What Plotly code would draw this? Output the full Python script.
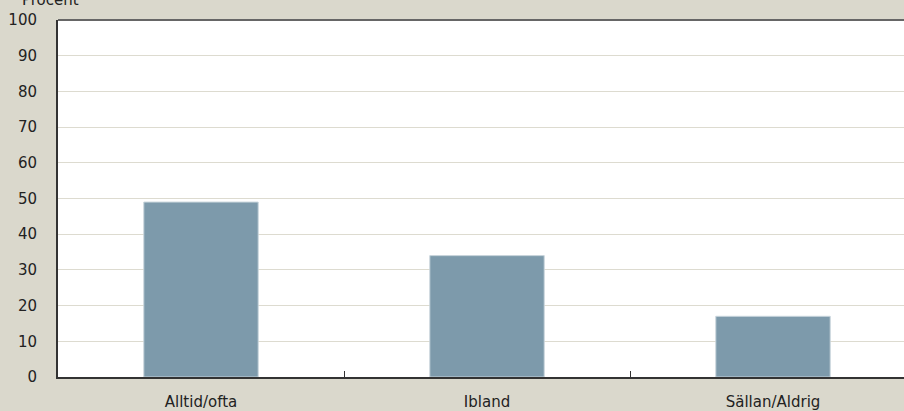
import plotly.graph_objects as go

categories = ["Alltid/ofta", "Ibland", "Sällan/Aldrig"]
values = [49, 34, 17]
y_ticks = list(range(0, 101, 10))

bg = "#dad8cc"
bar_color = "#7d9aab"
axis_color = "#333333"
grid_color = "#dddbd0"
font_family = "'DejaVu Sans', Verdana, sans-serif"

fig = go.Figure(
    go.Bar(
        x=categories,
        y=values,
        marker=dict(color=bar_color, line=dict(color="#c9d5dc", width=1)),
        width=0.4,
        hoverinfo="x+y",
    )
)

fig.update_layout(
    width=904,
    height=411,
    margin=dict(l=58, r=0, t=20, b=34),
    paper_bgcolor=bg,
    plot_bgcolor="white",
    font=dict(family=font_family, size=15, color="#222222"),
    showlegend=False,
)

# the category band runs past the right edge of the figure
fig.update_xaxes(
    type="category",
    range=[-0.5, 2.458],
    showline=True,
    linecolor=axis_color,
    linewidth=2,
    ticks="inside",
    tickson="boundaries",
    ticklen=6,
    tickcolor=axis_color,
    tickwidth=1,
    showgrid=False,
    ticklabelstandoff=10,
    tickfont=dict(size=15),
)

fig.update_yaxes(
    range=[0, 100],
    tickvals=y_ticks,
    showline=True,
    linecolor=axis_color,
    linewidth=2,
    showgrid=True,
    gridcolor=grid_color,
    gridwidth=1,
    zeroline=False,
    ticks="",
    ticklabelstandoff=16,
    tickfont=dict(size=15),
)

# top border of the plot area
fig.add_shape(
    type="line", xref="paper", yref="paper",
    x0=0, x1=1, y0=1, y1=1,
    line=dict(color="#666666", width=2),
)

fig.add_annotation(
    text="Procent",
    xref="paper", yref="paper",
    x=-38 / 846, y=1.0 + 9 / 357,
    xanchor="left", yanchor="bottom",
    showarrow=False,
    font=dict(size=15, color="#222222"),
)

fig.write_html("out.html")
